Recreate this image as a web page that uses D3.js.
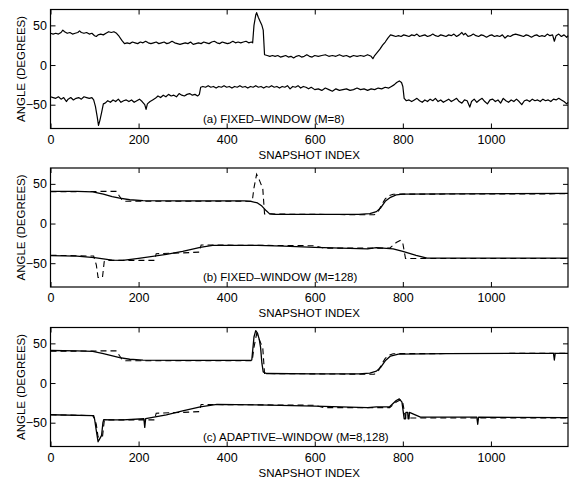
<!DOCTYPE html>
<html>
<head>
<meta charset="utf-8">
<script src="https://cdn.jsdelivr.net/npm/d3@7"></script>
<style>
  body { margin: 0; background: #fff; }
  svg { display: block; font-family: "Liberation Sans", Arial, Helvetica, sans-serif; }
</style>
</head>
<body>
<div id="chart"></div>
<script>
// axis ticks
const snapshotTicks = [0, 200, 400, 600, 800, 1000];
const angleTicks = [-50, 0, 50];
const snapshotDomain = [0, 1175];
const angleDomain = [-80, 70];
const panelLabels = ["(a) FIXED\u2013WINDOW (M=8)", "(b) FIXED\u2013WINDOW (M=128)", "(c) ADAPTIVE\u2013WINDOW (M=8,128)"];

// true trajectories (dashed), [snapshot, degrees]
const trueUpper = [[0,40],[120,40.5],[150,40.5],[156,35],[163,29],[170,28],[458,28],[462,45],[468,62],[474,55],[482,44],[486,12],[735,11],[745,16],[752,24],[760,31],[768,35],[778,37],[1175,37.5]];
const trueLower = [[0,-40],[98,-41],[104,-52],[108,-68],[118,-68],[122,-48],[126,-46.5],[236,-46.5],[240,-38],[300,-37],[338,-36],[342,-27],[600,-28],[620,-31],[770,-31],[785,-24],[795,-21],[800,-25],[806,-44],[1175,-44]];

// (a) fixed window M=8 estimates
const fixedM8Upper = [[0,40],[6,39],[12,40],[18,39],[24,41],[28,44],[32,42],[38,40],[44,41],[50,39],[56,40],[62,41],[66,43],[70,41],[76,40],[82,41],[88,39],[94,40],[100,37],[104,36],[108,38],[114,39],[120,38],[126,40],[132,42],[138,41],[144,42],[150,40],[156,36],[162,31],[168,27],[174,28],[180,27],[186,29],[192,28],[198,27],[204,29],[210,28],[216,30],[222,28],[228,27],[234,28],[240,29],[246,27],[252,28],[258,29],[264,27],[270,28],[276,30],[282,28],[288,27],[294,26],[300,27],[306,28],[312,27],[318,29],[324,26],[330,27],[336,28],[342,27],[348,29],[354,28],[360,27],[366,29],[372,30],[378,28],[384,27],[390,29],[396,28],[402,27],[408,28],[414,30],[420,28],[426,29],[432,28],[438,29],[444,30],[450,28],[456,29],[459,28],[462,50],[466,63],[468,66],[472,60],[476,55],[480,50],[483,44],[486,13],[492,12],[498,11],[504,12],[510,11],[516,12],[522,10],[528,11],[534,12],[540,10],[546,11],[552,9],[558,11],[564,12],[570,10],[576,11],[582,13],[588,11],[594,10],[600,12],[608,11],[616,12],[624,13],[632,11],[640,12],[648,11],[656,13],[664,11],[672,12],[680,10],[688,12],[696,11],[704,12],[712,11],[720,13],[728,11],[732,8],[736,12],[742,16],[748,20],[754,25],[760,29],[766,34],[772,38],[778,37],[784,36],[790,37],[796,36],[802,38],[808,37],[814,36],[820,38],[826,37],[832,39],[838,36],[844,37],[850,38],[856,36],[862,37],[868,39],[874,37],[880,36],[886,38],[892,37],[898,36],[904,38],[910,37],[916,39],[922,36],[928,38],[934,41],[938,38],[942,40],[948,36],[954,37],[960,39],[966,37],[972,36],[978,38],[984,37],[990,35],[996,37],[1002,38],[1008,36],[1014,37],[1020,36],[1026,38],[1032,34],[1038,37],[1044,36],[1050,38],[1056,39],[1062,38],[1068,37],[1074,36],[1080,38],[1086,37],[1092,35],[1098,37],[1104,38],[1110,36],[1116,37],[1122,36],[1128,39],[1134,37],[1140,38],[1144,30],[1148,37],[1154,39],[1160,36],[1166,38],[1172,35],[1175,37]];
const fixedM8Lower = [[0,-40],[6,-41],[12,-42],[18,-40],[24,-43],[30,-41],[36,-46],[40,-43],[46,-41],[52,-44],[58,-42],[64,-41],[70,-43],[76,-40],[82,-41],[88,-42],[94,-41],[98,-44],[102,-52],[106,-65],[109,-76],[112,-70],[116,-60],[120,-49],[124,-48],[130,-45],[136,-47],[142,-44],[148,-46],[154,-43],[160,-47],[166,-45],[172,-44],[178,-46],[184,-44],[190,-47],[196,-45],[202,-43],[208,-46],[214,-50],[217,-56],[220,-49],[226,-46],[232,-44],[238,-42],[244,-39],[250,-41],[256,-38],[262,-40],[268,-37],[274,-39],[280,-38],[286,-40],[292,-36],[298,-38],[304,-39],[310,-37],[316,-36],[322,-38],[328,-37],[334,-39],[338,-37],[341,-28],[346,-27],[352,-28],[358,-26],[364,-28],[370,-27],[376,-29],[382,-27],[388,-28],[394,-26],[400,-28],[406,-27],[412,-29],[418,-27],[424,-28],[430,-26],[436,-28],[442,-27],[448,-29],[454,-27],[460,-28],[466,-26],[472,-28],[478,-27],[484,-29],[490,-27],[496,-28],[502,-26],[508,-28],[514,-27],[520,-29],[526,-27],[532,-28],[538,-26],[544,-30],[550,-27],[556,-28],[562,-26],[568,-29],[574,-27],[580,-28],[586,-30],[592,-28],[600,-31],[608,-30],[616,-32],[624,-29],[632,-31],[640,-33],[648,-30],[656,-32],[664,-31],[672,-30],[680,-32],[688,-31],[696,-29],[704,-31],[712,-30],[720,-32],[728,-30],[736,-31],[744,-29],[752,-30],[760,-28],[768,-29],[774,-27],[780,-25],[786,-22],[792,-20],[797,-22],[800,-27],[803,-42],[808,-45],[814,-44],[820,-46],[826,-44],[832,-42],[838,-45],[844,-47],[850,-44],[856,-46],[862,-43],[868,-45],[874,-42],[880,-46],[886,-44],[892,-47],[898,-45],[904,-43],[910,-46],[916,-44],[922,-42],[928,-46],[934,-48],[940,-44],[946,-45],[952,-53],[956,-46],[962,-43],[968,-47],[974,-44],[980,-42],[986,-46],[992,-49],[998,-44],[1004,-43],[1010,-46],[1016,-44],[1022,-48],[1028,-42],[1034,-45],[1040,-47],[1046,-44],[1052,-46],[1058,-43],[1064,-46],[1070,-50],[1076,-45],[1082,-44],[1088,-46],[1094,-43],[1100,-45],[1106,-44],[1112,-46],[1118,-43],[1124,-45],[1130,-44],[1136,-46],[1142,-43],[1148,-44],[1154,-42],[1160,-44],[1166,-46],[1172,-49],[1175,-47]];

// (b) fixed window M=128 estimates
const fixedM128Upper = [[0,40.5],[60,40.5],[96,40],[120,37],[140,34],[157,32],[180,30],[210,29],[300,28.5],[440,28.5],[455,28],[470,26],[480,22],[490,16],[497,12.5],[510,11.5],[700,11.5],[725,12.5],[740,15],[750,20],[760,28],[772,33],[785,36],[800,37],[900,37.5],[1175,38]];
const fixedM128Lower = [[0,-40.5],[60,-41],[100,-43],[140,-46],[164,-46.5],[200,-44],[263,-39],[300,-35],[340,-30],[368,-27.5],[470,-27.5],[530,-28.5],[600,-30],[720,-32],[740,-30.5],[755,-31],[778,-32],[800,-35],[830,-40],[855,-43.5],[1175,-43.5]];

// (c) adaptive window M=8,128 estimates
const adaptiveUpper = [[0,41],[60,40.5],[96,40],[120,37],[157,32],[180,30],[210,29],[300,28.5],[455,28.5],[457,29],[462,58],[466,66],[470,63],[474,55],[477,45],[480,25],[483,14],[490,12],[600,11.5],[700,11.5],[725,12.5],[740,15],[750,20],[760,28],[772,34],[790,36.5],[900,37],[1142,37.5],[1144,29],[1146,37.5],[1175,37.5]];
const adaptiveLower = [[0,-40],[96,-41],[100,-45],[104,-60],[108,-74],[112,-70],[116,-66],[119,-50],[121,-46],[140,-46.5],[164,-46.5],[212,-45],[214,-56],[216,-45],[263,-40],[300,-35],[340,-30],[378,-27],[470,-27.5],[600,-29],[720,-31],[740,-30],[770,-30],[785,-22],[792,-20],[798,-24],[803,-45],[806,-45],[807,-37],[811,-37],[812,-45],[814,-45],[815,-37],[840,-43],[968,-43],[970,-52],[972,-43],[1175,-43.5]];

const panels = [
  { top: 9.5, solid: [fixedM8Upper, fixedM8Lower], dashed: [] },
  { top: 168, solid: [fixedM128Upper, fixedM128Lower], dashed: [trueUpper, trueLower] },
  { top: 327.5, solid: [adaptiveUpper, adaptiveLower], dashed: [trueUpper, trueLower] }
];

const W = 575, H = 480;
const left = 50.5, right = 568, plotH = 119;

const svg = d3.select("#chart").append("svg")
  .attr("width", W).attr("height", H);

const x = d3.scaleLinear().domain(snapshotDomain).range([left, right]);

panels.forEach(function (p, i) {
  const y = d3.scaleLinear().domain(angleDomain).range([p.top + plotH, p.top]);
  const g = svg.append("g");

  const line = d3.line()
    .x(d => x(d[0]))
    .y(d => y(d[1]));

  //dashed true tracks first, estimates drawn over them
  p.dashed.forEach(s => {
    g.append("path").datum(s)
      .attr("d", line)
      .attr("fill", "none")
      .attr("stroke", "#000")
      .attr("stroke-width", 1.1)
      .attr("stroke-dasharray", "6,4");
  });

  p.solid.forEach(s => {
    g.append("path").datum(s)
      .attr("d", line)
      .attr("fill", "none")
      .attr("stroke", "#000")
      .attr("stroke-width", i === 0 ? 1.2 : 1.3)
      .attr("stroke-linejoin", "round");
  });

  // bottom axis with labels, inward ticks
  g.append("g")
    .attr("transform", "translate(0," + (p.top + plotH) + ")")
    .call(d3.axisBottom(x).tickValues(snapshotTicks).tickFormat(d3.format("d")).tickSize(-5).tickPadding(6.5))
    .call(a => a.select(".domain").remove())
    .call(a => a.selectAll("text").attr("font-size", 12.5).attr("fill", "#000").attr("font-family", null));

  // top axis, ticks only
  g.append("g")
    .attr("transform", "translate(0," + p.top + ")")
    .call(d3.axisTop(x).tickValues(snapshotTicks).tickSize(-5).tickFormat(""))
    .call(a => a.select(".domain").remove());

  // left axis with labels
  g.append("g")
    .attr("transform", "translate(" + left + ",0)")
    .call(d3.axisLeft(y).tickValues(angleTicks).tickSize(-5).tickPadding(3.5))
    .call(a => a.select(".domain").remove())
    .call(a => a.selectAll("text").attr("font-size", 12.5).attr("fill", "#000").attr("font-family", null));

  // right axis, ticks only
  g.append("g")
    .attr("transform", "translate(" + right + ",0)")
    .call(d3.axisRight(y).tickValues(angleTicks).tickSize(-5).tickFormat(""))
    .call(a => a.select(".domain").remove());

  g.selectAll(".tick line").attr("stroke", "#000");

  //frame
  g.append("rect")
    .attr("x", left).attr("y", p.top)
    .attr("width", right - left).attr("height", plotH)
    .attr("fill", "none")
    .attr("stroke", "#000")
    .attr("stroke-width", 1.2);

  g.append("text")
    .attr("x", 203).attr("y", p.top + plotH - 6)
    .attr("font-size", 11.5).attr("fill", "#000")
    .text(panelLabels[i]);

  g.append("text")
    .attr("x", (left + right) / 2).attr("y", p.top + plotH + 30)
    .attr("text-anchor", "middle")
    .attr("font-size", 11.5).attr("fill", "#000")
    .text("SNAPSHOT INDEX");

  g.append("text")
    .attr("transform", "translate(25," + (p.top + plotH / 2) + ") rotate(-90)")
    .attr("text-anchor", "middle")
    .attr("font-size", 11.5).attr("fill", "#000")
    .text("ANGLE (DEGREES)");
});
</script>
</body>
</html>
